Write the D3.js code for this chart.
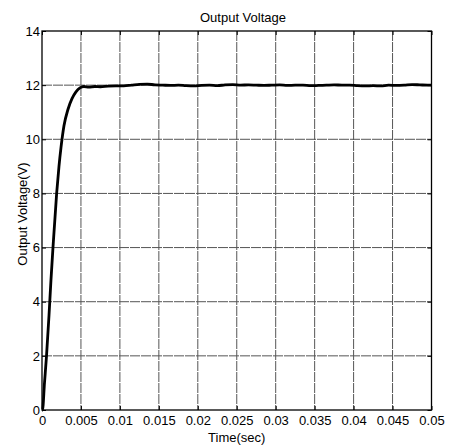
<!DOCTYPE html>
<html><head><meta charset="utf-8">
<script src="https://cdn.jsdelivr.net/npm/d3@7"></script>
<style>body{margin:0;background:#fff}svg{display:block}text{font-family:Arial,"Liberation Sans",sans-serif;fill:#000}</style>
</head><body><svg id="c" width="449" height="448"></svg>
<script>
const timeVals = [0, 0.000064, 0.00032, 0.00058, 0.0009, 0.00115, 0.00141, 0.00188, 0.00218, 0.00244, 0.00282, 0.00333, 0.00385, 0.00436, 0.00487, 0.00538, 0.006, 0.0068, 0.0075, 0.0085, 0.0095, 0.0105, 0.0115, 0.0125, 0.0135, 0.0145, 0.0155, 0.0165, 0.0175, 0.0185, 0.0195, 0.0205, 0.0215, 0.0225, 0.0235, 0.0245, 0.0255, 0.0265, 0.0275, 0.0285, 0.0295, 0.0305, 0.0315, 0.0325, 0.0335, 0.0345, 0.0355, 0.0365, 0.0375, 0.0385, 0.0395, 0.0405, 0.0415, 0.0425, 0.0435, 0.0445, 0.0455, 0.0465, 0.0475, 0.0485, 0.0495, 0.05];
const voltVals = [0, 0, 1.0, 2.0, 3.5, 4.8, 6.0, 8.0, 9.0, 9.7, 10.5, 11.1, 11.5, 11.75, 11.9, 11.95, 11.93, 11.95, 11.94, 11.96, 11.97, 11.97, 12.0, 12.03, 12.04, 12.01, 12.0, 11.99, 12.0, 11.98, 11.97, 11.99, 12.0, 11.98, 12.01, 12.02, 12.0, 12.01, 12.0, 11.99, 12.0, 12.01, 11.99, 12.0, 12.0, 11.98, 11.99, 12.0, 12.01, 12.0, 12.0, 11.98, 11.97, 11.98, 11.97, 12.0, 11.99, 12.0, 12.02, 12.01, 12.0, 12.0];
const xTicks = [0, 0.005, 0.01, 0.015, 0.02, 0.025, 0.03, 0.035, 0.04, 0.045, 0.05];
const xTickLabels = ["0", "0.005", "0.01", "0.015", "0.02", "0.025", "0.03", "0.035", "0.04", "0.045", "0.05"];
const yTicks = [0, 2, 4, 6, 8, 10, 12, 14];
const titleText = "Output Voltage";
const xLabel = "Time(sec)";
const yLabel = "Output Voltage(V)";

const L = 42, R = 431.5, T = 31, B = 410;
const svg = d3.select("#c");
const x = d3.scaleLinear().domain([0, 0.05]).range([L, R]);
const y = d3.scaleLinear().domain([0, 14]).range([B, T]);

// grid
const g = svg.append("g");
g.selectAll(".gx").data(xTicks.slice(1, -1)).enter().append("line")
  .attr("x1", d => x(d)).attr("x2", d => x(d)).attr("y1", T).attr("y2", B)
  .attr("stroke", "#555").attr("stroke-width", 1).attr("stroke-dasharray", "10,1");
g.selectAll(".gy").data(yTicks.slice(1, -1)).enter().append("line")
  .attr("y1", d => y(d)).attr("y2", d => y(d)).attr("x1", L).attr("x2", R)
  .attr("stroke", "#555").attr("stroke-width", 1).attr("stroke-dasharray", "10,1");

// axes (ticks inward)
const fmt = (d, i) => xTickLabels[i];
svg.append("g").attr("transform", `translate(0,${B})`)
  .call(d3.axisBottom(x).tickValues(xTicks).tickFormat(fmt).tickSizeInner(-4).tickSizeOuter(0).tickPadding(6));
svg.append("g").attr("transform", `translate(${L},0)`)
  .call(d3.axisLeft(y).tickValues(yTicks).tickFormat(d3.format("d")).tickSizeInner(-4).tickSizeOuter(0).tickPadding(2));
svg.append("g").attr("transform", `translate(0,${T})`)
  .call(d3.axisTop(x).tickValues(xTicks).tickFormat("").tickSizeInner(-4).tickSizeOuter(0));
svg.append("g").attr("transform", `translate(${R},0)`)
  .call(d3.axisRight(y).tickValues(yTicks).tickFormat("").tickSizeInner(-4).tickSizeOuter(0));
svg.selectAll(".domain").remove();
svg.selectAll(".tick line").attr("stroke", "#000");
svg.selectAll(".tick text").attr("font-size", 13).attr("font-family", "Arial, 'Liberation Sans', sans-serif").attr("fill", "#000");

// box
svg.append("rect").attr("x", L).attr("y", T).attr("width", R - L).attr("height", B - T)
  .attr("fill", "none").attr("stroke", "#000").attr("stroke-width", 1.3);

// data line
const line = d3.line().x((d, i) => x(timeVals[i])).y(d => y(d)).curve(d3.curveMonotoneX);
svg.append("path").datum(voltVals).attr("d", line)
  .attr("fill", "none").attr("stroke", "#000").attr("stroke-width", 2.8).attr("stroke-linejoin", "round");

// labels
svg.append("text").attr("x", 243).attr("y", 22).attr("text-anchor", "middle").attr("font-size", 13).text(titleText);
svg.append("text").attr("x", (L + R) / 2).attr("y", 442).attr("text-anchor", "middle").attr("font-size", 13).text(xLabel);
svg.append("text").attr("transform", "translate(27,214) rotate(-90)").attr("text-anchor", "middle").attr("font-size", 13).text(yLabel);
</script></body></html>
